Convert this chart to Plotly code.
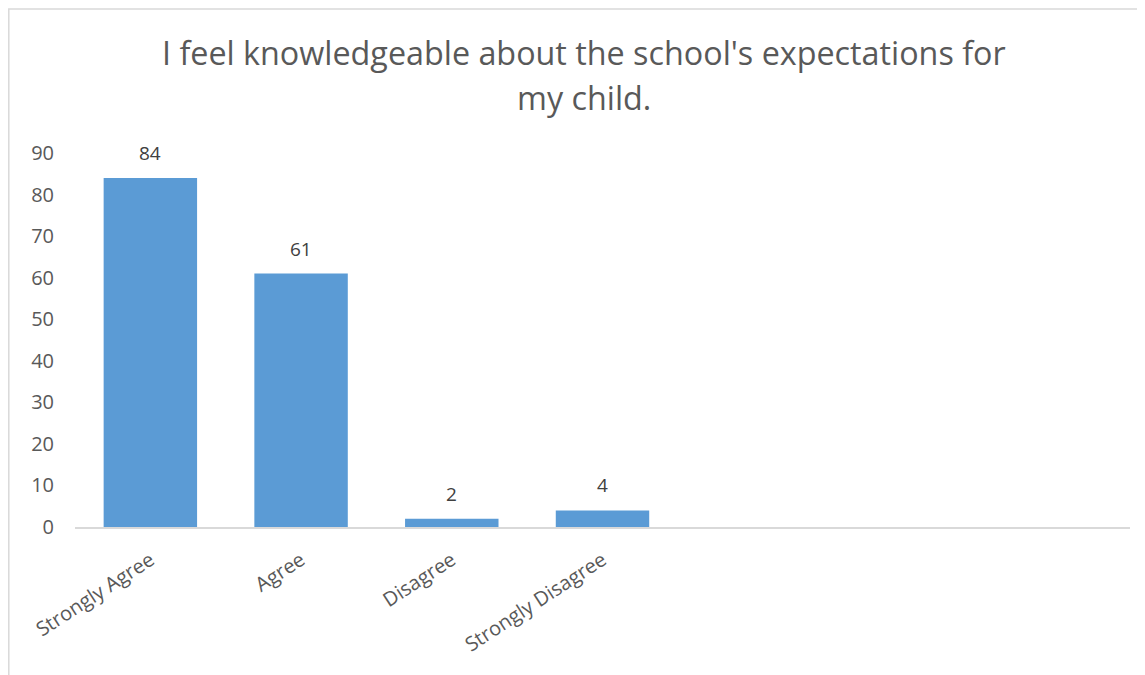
import plotly.graph_objects as go

categories = ["Strongly Agree", "Agree", "Disagree", "Strongly Disagree"]
values = [84, 61, 2, 4]
title_lines = ["I feel knowledgeable about the school's expectations for", "my child."]
n_slots = 7  # the category axis has room for 7 slots; only 4 are used

FONT = "Open Sans"
GREY = "#595959"

fig = go.Figure(go.Bar(
    x=categories, y=values,
    marker=dict(color="#5b9bd5", line=dict(width=0)),
    hoverinfo="x+y",
))

# data labels sitting a little above each bar, as in the original
for c, v in zip(categories, values):
    fig.add_annotation(x=c, y=v, text=str(v), showarrow=False,
                       xanchor="center", yanchor="middle", yshift=25,
                       font=dict(family=FONT, size=19, color="#404040"))

# page has an 8px body offset; margins compensate so plot area is x 75..1130, y 153..527
fig.update_layout(
    width=1145, height=675,
    margin=dict(l=67, r=23, t=145, b=156),
    paper_bgcolor="white", plot_bgcolor="white",
    bargap=0.38, showlegend=False,
    font=dict(family=FONT, color=GREY),
)
fig.update_xaxes(
    type="category", range=[-0.5, n_slots - 0.5],
    showline=True, linecolor="#d9d9d9", linewidth=1.5,
    showgrid=False, ticks="", tickangle=-33, ticklabelstandoff=12,
    tickfont=dict(family=FONT, size=20, color=GREY),
)
fig.update_yaxes(
    range=[0, 90], dtick=10, showgrid=False, showline=False, zeroline=False,
    ticks="", ticklabelstandoff=20,
    tickfont=dict(family=FONT, size=20, color=GREY),
)

# chart frame
fig.add_shape(type="rect", xref="paper", yref="paper",
              x0=(0.8 - 67) / 1055, x1=1.2, y0=-0.6, y1=(527 - 9) / 374,
              line=dict(color="#d9d9d9", width=1.5), fillcolor="rgba(0,0,0,0)", layer="below")

# title (two lines placed like the original)
for line, ypix in zip(title_lines, [52, 97]):
    fig.add_annotation(text=line, xref="paper", yref="paper",
                       x=(584 - 75) / 1055, y=(527 - ypix) / 374,
                       xanchor="center", yanchor="middle", showarrow=False,
                       font=dict(family=FONT, size=32.3, color=GREY))

fig.write_html("out.html")
